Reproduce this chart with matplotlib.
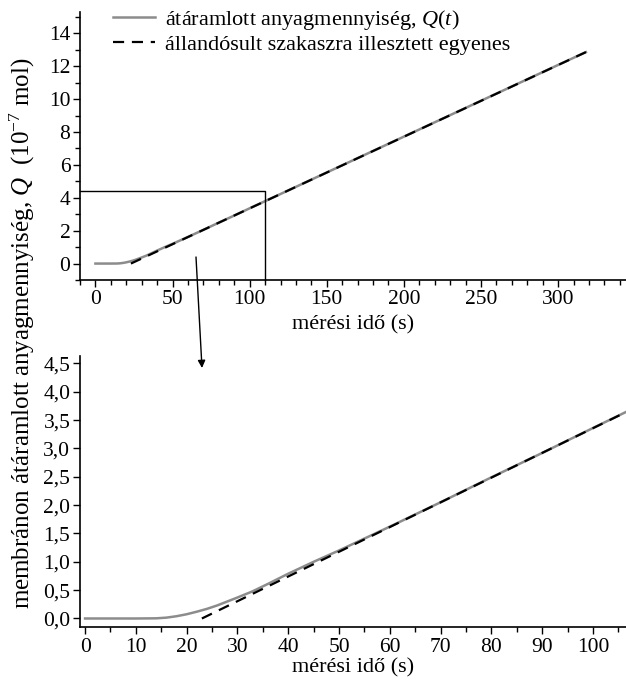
import matplotlib
matplotlib.use('Agg')
import matplotlib.pyplot as plt
from matplotlib.ticker import MultipleLocator, FuncFormatter
from matplotlib.patches import FancyArrowPatch

# adatok (leolvasva)
t_meas = [0, 5, 10, 14, 16, 18, 20, 22, 24, 26, 28, 30, 33, 36, 40, 45, 50,
          60, 70, 80, 90, 100, 120, 150, 200, 250, 300, 318]
q_meas = [0, 0, 0, 0.003, 0.015, 0.04, 0.075, 0.12, 0.17, 0.23, 0.30, 0.37,
          0.48, 0.61, 0.79, 1.00, 1.20, 1.62, 2.05, 2.49, 2.92, 3.36, 4.23,
          5.54, 7.72, 9.90, 12.08, 12.86]
t_fit = [23, 318]
q_fit = [0.0, 12.86]

zoom_t = [-10, 110]
zoom_q = [-1, 4.42]

plt.rcParams['font.family'] = 'Liberation Serif'
plt.rcParams['mathtext.fontset'] = 'custom'
plt.rcParams['mathtext.rm'] = 'Liberation Serif'
plt.rcParams['mathtext.it'] = 'Liberation Serif:italic'
plt.rcParams['font.size'] = 15.5

fig = plt.figure(figsize=(6.26, 6.82), dpi=100)
ax1 = fig.add_axes([80/626, 1-280/682, 1-80/626, 268/682])
ax2 = fig.add_axes([80/626, 1-627/682, 1-80/626, 271/682])

grey = '#8c8c8c'
for ax in (ax1, ax2):
    ax.plot(t_meas, q_meas, color=grey, lw=1.8, label='átáramlott anyagmennyiség, $Q(t)$')
    ax.plot(t_fit, q_fit, color='black', lw=1.6, dashes=(5, 3.5),
            label='állandósult szakaszra illesztett egyenes')
    ax.spines['top'].set_visible(False)
    ax.spines['right'].set_visible(False)
    ax.spines['left'].set_linewidth(1.2)
    ax.spines['bottom'].set_linewidth(1.2)
    ax.tick_params(which='major', direction='out', length=5, width=1, pad=2)
    ax.tick_params(which='minor', direction='out', length=3.5, width=1)

ax1.set_xlabel('mérési idő (s)', labelpad=5, fontsize=16)
ax2.tick_params(axis='x', which='major', pad=3)
ax2.set_xlabel('mérési idő (s)', labelpad=1, fontsize=16)

# felső
ax1.set_xlim(-10, 344)
ax1.set_ylim(-1, 15.3)
ax1.xaxis.set_major_locator(MultipleLocator(50))
ax1.xaxis.set_minor_locator(MultipleLocator(10))
ax1.yaxis.set_major_locator(MultipleLocator(2))
ax1.yaxis.set_minor_locator(MultipleLocator(1))
ax1.plot([zoom_t[0], zoom_t[1], zoom_t[1]], [zoom_q[1], zoom_q[1], zoom_q[0]],
         color='black', lw=1.0, clip_on=False)
ax1.legend(loc='upper left', bbox_to_anchor=(0.023, 1.09), frameon=False,
           handlelength=1.9, handletextpad=0.45, labelspacing=0.1, fontsize=16)

# alsó
ax2.set_xlim(-1, 106.5)
ax2.set_ylim(-0.15, 4.63)
ax2.xaxis.set_major_locator(MultipleLocator(10))
ax2.xaxis.set_minor_locator(MultipleLocator(5))
ax2.yaxis.set_major_locator(MultipleLocator(0.5))
ax2.yaxis.set_major_formatter(FuncFormatter(lambda v, p: ('%.1f' % v).replace('.', ',')))

# nyíl a kinagyított részhez
arrow = FancyArrowPatch((196/626, 1-257/682), (202/626, 1-368/682),
                        transform=fig.transFigure, arrowstyle='-|>',
                        mutation_scale=11, color='black', lw=1.0,
                        shrinkA=0, shrinkB=0)
fig.patches.append(arrow)

fig.text(22/626, 1-333/682, 'membránon átáramlott anyagmennyiség, $Q$  (10$^{-7}$ mol)',
         rotation=90, ha='center', va='center', fontsize=18)

fig.savefig('out.png', dpi=100)
